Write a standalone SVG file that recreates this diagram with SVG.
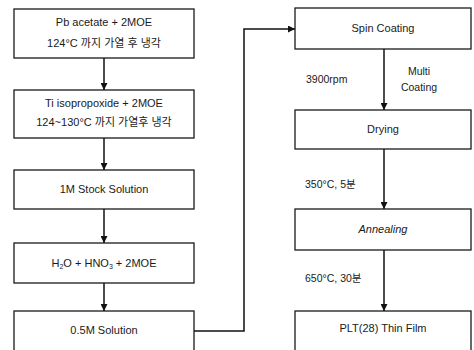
<svg xmlns="http://www.w3.org/2000/svg" width="474" height="350" viewBox="0 0 474 350">
<defs>
<marker id="ah" viewBox="0 0 10 10" refX="10" refY="5" markerWidth="7" markerHeight="7" markerUnits="userSpaceOnUse" orient="auto">
<path d="M0,0 L10,5 L0,10 Z" fill="#111"/>
</marker>
</defs>
<style>
.box{fill:#fff;stroke:#1a1a1a;stroke-width:1.3}
.t{font-family:"Liberation Sans","Noto Sans CJK KR",Arial,sans-serif;font-size:11px;fill:#1a1a1a;text-anchor:middle}
.l{font-family:"Liberation Sans","Noto Sans CJK KR",Arial,sans-serif;font-size:10.5px;fill:#1a1a1a}
.c{fill:none;stroke:#111;stroke-width:1.5;marker-end:url(#ah)}
</style>
<rect width="474" height="350" fill="#fff"/>
<g id="connectors">
<line class="c" x1="104" y1="58" x2="104" y2="90"/>
<line class="c" x1="104" y1="138" x2="104" y2="170"/>
<line class="c" x1="104" y1="209" x2="104" y2="243"/>
<line class="c" x1="104" y1="283" x2="104" y2="311"/>
<polyline class="c" points="194,331 244,331 244,29 295,29"/>
<line class="c" x1="384" y1="49" x2="384" y2="110"/>
<line class="c" x1="384" y1="149" x2="384" y2="209"/>
<line class="c" x1="384" y1="250" x2="384" y2="311"/>
</g>
<g id="n1"><rect class="box" x="14" y="9" width="180" height="49"/>
<text class="t" x="104" y="26">Pb acetate + 2MOE</text>
<text class="t" x="104" y="47">124°C 까지 가열 후 냉각</text></g>
<g id="n2"><rect class="box" x="14" y="90" width="180" height="48"/>
<text class="t" x="104" y="107">Ti isopropoxide + 2MOE</text>
<text class="t" x="104" y="126">124~130°C 까지 가열후 냉각</text></g>
<g id="n3"><rect class="box" x="14" y="170" width="180" height="39"/>
<text class="t" x="104" y="193">1M Stock Solution</text></g>
<g id="n4"><rect class="box" x="14" y="243" width="180" height="40"/>
<text class="t" x="104" y="267">H<tspan font-size="7" dy="2">2</tspan><tspan dy="-2">O + HNO</tspan><tspan font-size="7" dy="2">3</tspan><tspan dy="-2"> + 2MOE</tspan></text></g>
<g id="n5"><rect class="box" x="14" y="311" width="180" height="45"/>
<text class="t" x="104" y="334">0.5M Solution</text></g>
<g id="n6"><rect class="box" x="295" y="8" width="176" height="41"/>
<text class="t" x="383" y="32">Spin Coating</text></g>
<g id="n7"><rect class="box" x="295" y="110" width="176" height="39"/>
<text class="t" x="383" y="133">Drying</text></g>
<g id="n8"><rect class="box" x="295" y="209" width="176" height="41"/>
<text class="t" x="383" y="233" font-style="italic">Annealing</text></g>
<g id="n9"><rect class="box" x="295" y="311" width="176" height="45"/>
<text class="t" x="383" y="332">PLT(28) Thin Film</text></g>
<g id="labels">
<text class="l" x="306" y="83">3900rpm</text>
<text class="l" x="419" y="75" text-anchor="middle">Multi</text>
<text class="l" x="419" y="91" text-anchor="middle">Coating</text>
<text class="l" x="305" y="188">350°C, 5분</text>
<text class="l" x="305" y="282">650°C, 30분</text>
</g>
</svg>
